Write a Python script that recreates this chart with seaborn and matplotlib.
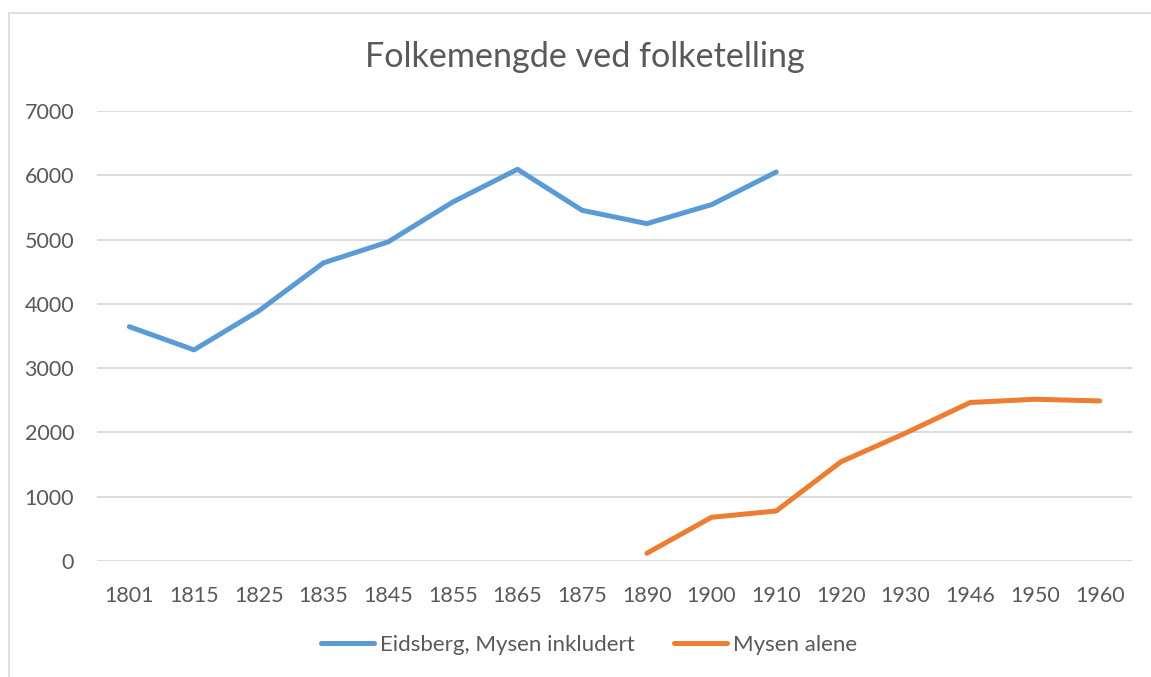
import matplotlib
matplotlib.use("Agg")
import matplotlib.pyplot as plt
import seaborn as sns
import pandas as pd
from matplotlib.patches import Rectangle
from matplotlib.lines import Line2D

years = ["1801", "1815", "1825", "1835", "1845", "1855", "1865", "1875",
         "1890", "1900", "1910", "1920", "1930", "1946", "1950", "1960"]
eidsberg_years = ["1801", "1815", "1825", "1835", "1845", "1855", "1865",
                  "1875", "1890", "1900", "1910"]
eidsberg = [3645, 3284, 3890, 4637, 4963, 5584, 6093, 5455, 5248, 5543, 6051]
mysen_years = ["1890", "1900", "1910", "1920", "1930", "1946", "1950", "1960"]
mysen = [120, 680, 778, 1543, 1990, 2466, 2516, 2490]
series_names = ["Eidsberg, Mysen inkludert", "Mysen alene"]
title = "Folkemengde ved folketelling"

rows = []
for y, v in zip(eidsberg_years, eidsberg):
    rows.append({"pos": years.index(y), "value": v, "serie": series_names[0]})
for y, v in zip(mysen_years, mysen):
    rows.append({"pos": years.index(y), "value": v, "serie": series_names[1]})
df = pd.DataFrame(rows)

sns.set_theme(style="white")
plt.rcParams["font.family"] = ["Lato", "DejaVu Sans"]

W, H = 1151, 677
fig = plt.figure(figsize=(W / 100, H / 100), dpi=100)
fig.patch.set_facecolor("white")
# light chart border
fig.patches.append(Rectangle((9 / W, -0.1), 1.2, (H - 13) / H + 0.1,
                             transform=fig.transFigure, fill=False,
                             edgecolor="#D9D9D9", linewidth=1.2))

ax = fig.add_axes([97 / W, 1 - 561 / H, (1132 - 97) / W, (561 - 111) / H])
palette = {series_names[0]: "#5B9BD5", series_names[1]: "#ED7D31"}
sns.lineplot(data=df, x="pos", y="value", hue="serie", palette=palette,
             linewidth=3.6, ax=ax, legend=False,
             solid_capstyle="round", solid_joinstyle="round")

ax.set_xlim(-0.5, len(years) - 0.5)
ax.set_ylim(0, 7000)
ax.set_yticks(range(0, 7001, 1000))
ax.set_xticks(range(len(years)))
ax.set_xticklabels(years)
ax.set_xlabel("")
ax.set_ylabel("")
ax.grid(axis="y", color="#D9D9D9", linewidth=1.3)
ax.set_axisbelow(True)
for s in ax.spines.values():
    s.set_visible(False)
ax.tick_params(axis="both", length=0, labelsize=15.5, colors="#595959")
ax.tick_params(axis="y", pad=16.5)
ax.tick_params(axis="x", pad=18)

fig.text(585 / W, 1 - 67 / H, title, ha="center", va="baseline",
         fontsize=24.6, color="#595959")

handles = [Line2D([], [], color=palette[n], linewidth=3.6,
                  solid_capstyle="round") for n in series_names]
fig.legend(handles, series_names, loc="center", ncol=2,
           bbox_to_anchor=(589 / W, 1 - 645 / H), frameon=False,
           fontsize=16, labelcolor="#595959", handlelength=2.4,
           handletextpad=0.27, columnspacing=1.75)

fig.savefig("out.png", dpi=100, facecolor="white")
